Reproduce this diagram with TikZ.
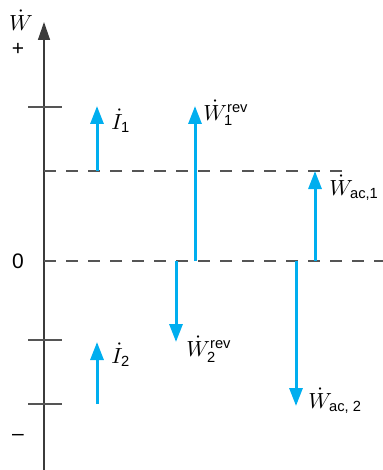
\documentclass[tikz,border=0pt]{standalone}
\usepackage{amsmath}
\usepackage{fontspec}
\setmainfont{Liberation Sans}
\usepackage{xcolor}
\definecolor{wblue}{RGB}{0,174,239}
\definecolor{agray}{RGB}{85,85,85}
\usepackage{tikz}
\usetikzlibrary{arrows.meta}

\begin{document}
\begin{tikzpicture}[
  x=0.5pt,y=-0.5pt,
  axis/.style={line width=0.7pt,agray!70!black,-{Triangle[length=9pt,width=6pt]}},
  tick/.style={line width=0.7pt,agray},
  level/.style={dash pattern=on 6pt off 5pt,line width=0.6pt,agray},
  flow/.style={-{Triangle[length=9pt,width=6.5pt]},line width=1.5pt,wblue},
  lab/.style={font=\fontsize{10.5}{12}\selectfont,anchor=west,inner sep=0pt},
  sign/.style={font=\fontsize{10.5}{12}\selectfont,inner sep=0pt}
]
  \useasboundingbox (0,0) rectangle (383,470);

  \coordinate (bot) at (44,470);
  \coordinate (top) at (44,22);
  \draw[axis] (bot) -- (top);
  \foreach \y in {107,340,404}
    \draw[tick] (28,\y) -- (62,\y);

  \draw[level] (44,171) -- (350,171);
  \draw[level] (44,261) -- (383,261);

  \coordinate (i1a) at (97,171);  \coordinate (i1b) at (97,106);
  \coordinate (w1a) at (195,261); \coordinate (w1b) at (195,106);
  \coordinate (w2a) at (176,261); \coordinate (w2b) at (176,342);
  \coordinate (ac1a) at (315,261); \coordinate (ac1b) at (315,171);
  \coordinate (ac2a) at (296,261); \coordinate (ac2b) at (296,406);
  \coordinate (i2a) at (97,404);  \coordinate (i2b) at (97,342);

  \draw[flow] (i1a) -- (i1b);
  \draw[flow] (w1a) -- (w1b);
  \draw[flow] (w2a) -- (w2b);
  \draw[flow] (ac1a) -- (ac1b);
  \draw[flow] (ac2a) -- (ac2b);
  \draw[flow] (i2a) -- (i2b);

  \node[sign] (wdot) at (21,20) {$\dot{W}$};
  \node[sign] (plus) at (18,49) {+};
  \node[sign] (zero) at (18,261) {0};
  \node[sign] (minus) at (18,437) {–};

  \node[lab] (li1) at (111,121) {$\dot{I}_{\text{1}}$};
  \node[lab] (lw1) at (203,113) {$\dot{W}_{\text{1}}^{\text{rev}}$};
  \node[lab] (lw2) at (186,349) {$\dot{W}_{\text{2}}^{\text{rev}}$};
  \node[lab] (li2) at (111,355) {$\dot{I}_{\text{2}}$};
  \node[lab] (lac1) at (329,188) {$\dot{W}_{\text{ac,1}}$};
  \node[lab] (lac2) at (308,401) {$\dot{W}_{\text{ac, 2}}$};
\end{tikzpicture}
\end{document}
